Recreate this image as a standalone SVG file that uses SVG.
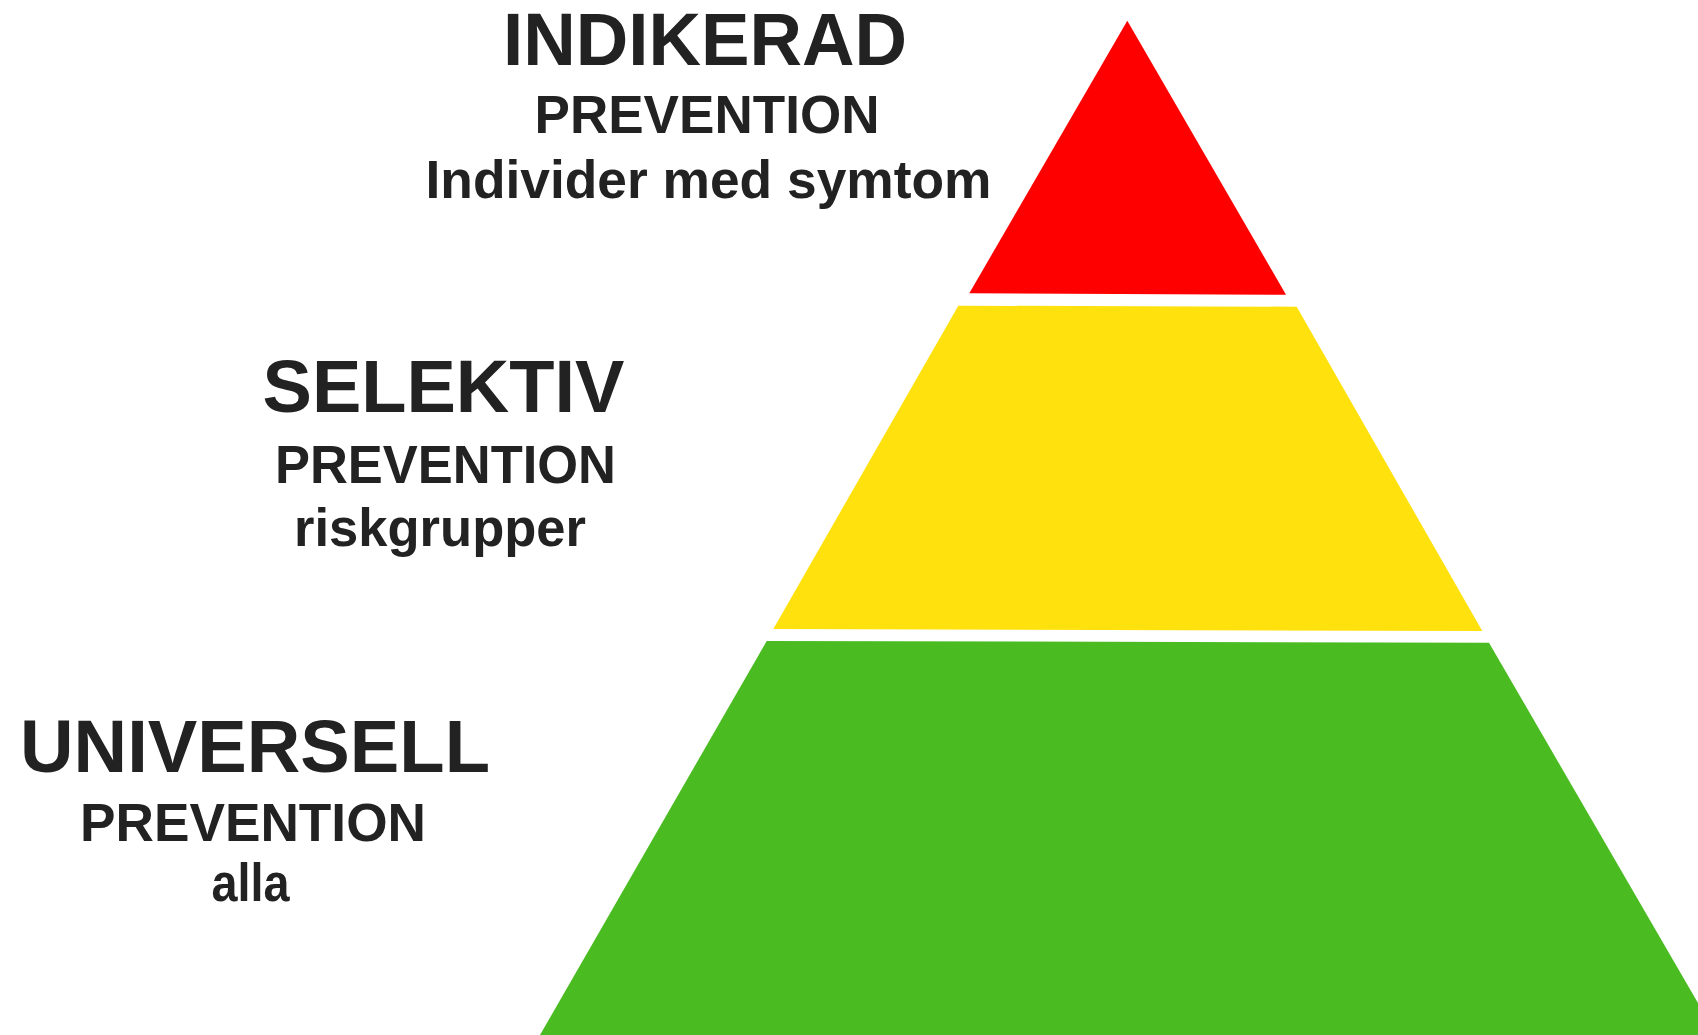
<svg xmlns="http://www.w3.org/2000/svg" width="1698" height="1035" viewBox="0 0 1698 1035">
<style>
  text { font-family: "Liberation Sans", Arial, sans-serif; font-weight: bold; fill: #222222; text-anchor: middle; }
  .big { font-size: 75px; }
  .small { font-size: 54px; }
</style>
<rect width="1698" height="1035" fill="#ffffff"/>
<g id="tier-universell">
  <polygon points="766.7,641 1489,642.7 1716.5,1035 540,1035" fill="#4abc22"/>
</g>
<g id="tier-selektiv">
  <polygon points="958.3,305.7 1296.7,306.7 1482.3,631 773.3,629" fill="#ffe10e"/>
</g>
<g id="tier-indikerad">
  <polygon points="1127.3,20.7 1286,294.7 969.3,293.3" fill="#ff0000"/>
</g>
<g id="label-indikerad">
  <text class="big" x="705" y="64.5" textLength="404" lengthAdjust="spacingAndGlyphs">INDIKERAD</text>
  <text class="small" x="707" y="133.3" textLength="345" lengthAdjust="spacingAndGlyphs">PREVENTION</text>
  <text class="small" x="708.5" y="198.3" textLength="566" lengthAdjust="spacingAndGlyphs">Individer med symtom</text>
</g>
<g id="label-selektiv">
  <text class="big" x="443.5" y="411.7" textLength="362" lengthAdjust="spacingAndGlyphs">SELEKTIV</text>
  <text class="small" x="445.5" y="482.7" textLength="341" lengthAdjust="spacingAndGlyphs">PREVENTION</text>
  <text class="small" x="440" y="546" textLength="292" lengthAdjust="spacingAndGlyphs">riskgrupper</text>
</g>
<g id="label-universell">
  <text class="big" x="255" y="771.7" textLength="470" lengthAdjust="spacingAndGlyphs">UNIVERSELL</text>
  <text class="small" x="253" y="840.7" textLength="346" lengthAdjust="spacingAndGlyphs">PREVENTION</text>
  <text class="small" x="250.5" y="901" textLength="78" lengthAdjust="spacingAndGlyphs">alla</text>
</g>
<g id="connectors"></g>
</svg>
